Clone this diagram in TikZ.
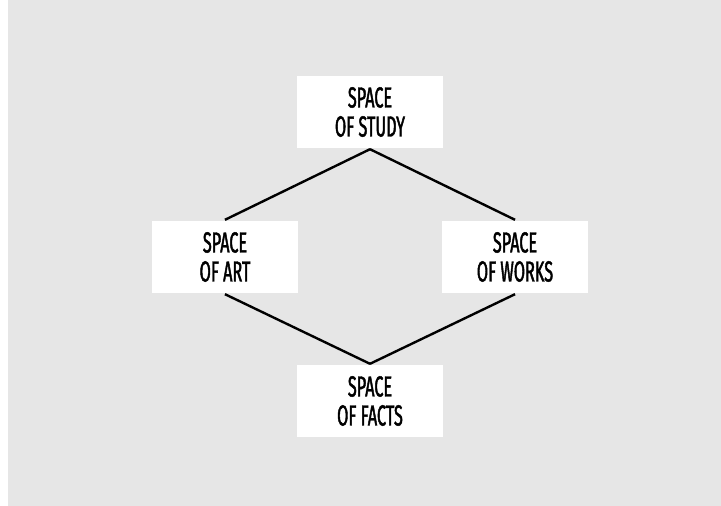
\documentclass[tikz,border=0pt]{standalone}
\usepackage{fontspec}
\setsansfont{Fira Sans}[FakeStretch=0.56,FakeBold=1.5]
\usepackage{tikz}
\usetikzlibrary{positioning}
\definecolor{bggray}{RGB}{230,230,230}

\begin{document}
\begin{tikzpicture}[x=1pt,y=1pt,on grid,line width=2.4pt,
      space node/.style={fill=white,minimum width=146pt,minimum height=72pt,
        align=center,font=\sffamily\fontsize{29}{29}\selectfont}]
      \useasboundingbox (0,0) rectangle (721,-506);
      \fill[bggray] (8,0) rectangle (721,-506);

      \node[space node] (study) at (370,-112) {SPACE\\OF STUDY};
      \node[space node] (art) [below left=145pt and 145pt of study] {SPACE\\OF ART};
      \node[space node] (works) [below right=145pt and 145pt of study] {SPACE\\OF WORKS};
      \node[space node] (facts) [below right=144pt and 145pt of art] {SPACE\\OF FACTS};

      \path
        (study.south) edge (art.north)
        (study.south) edge (works.north)
        (art.south) edge (facts.north)
        (works.south) edge (facts.north);
    \end{tikzpicture}
\end{document}
